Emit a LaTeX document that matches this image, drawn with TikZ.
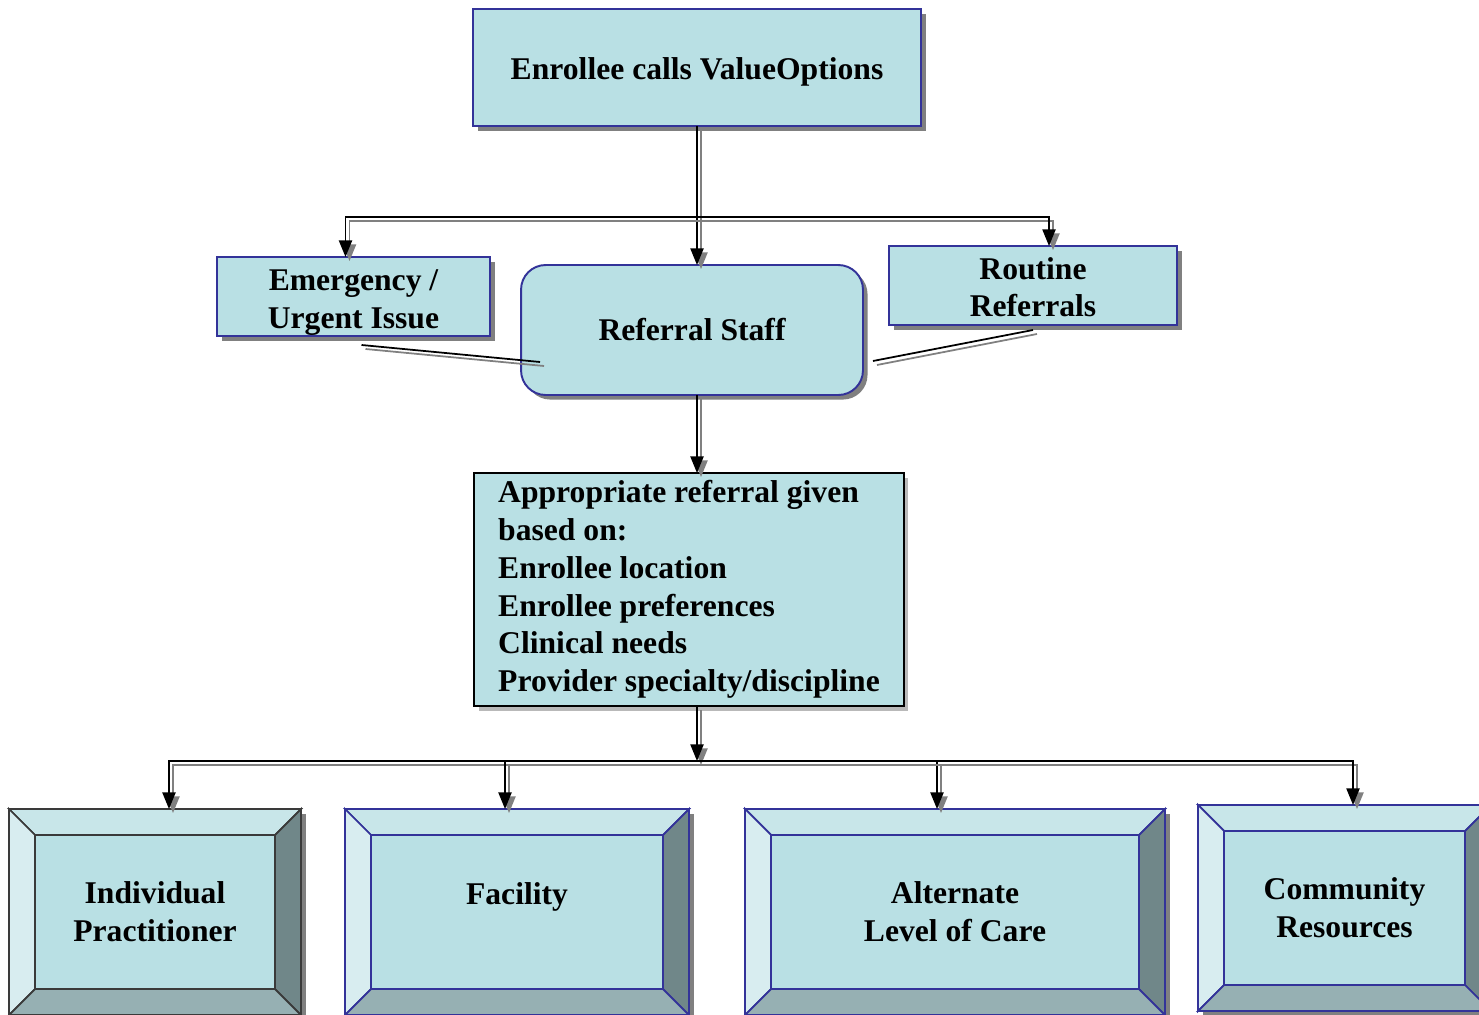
\documentclass[tikz,border=0pt]{standalone}
\usepackage{fontspec}
\setmainfont{Liberation Serif}
\usetikzlibrary{arrows.meta,shadows,calc}

\definecolor{boxfill}{RGB}{185,224,228}
\definecolor{boxedge}{RGB}{51,51,153}
\definecolor{darkedge}{RGB}{58,58,58}
\definecolor{shade}{RGB}{128,128,128}
\definecolor{facetop}{RGB}{200,230,233}
\definecolor{faceleft}{RGB}{216,237,240}
\definecolor{faceright}{RGB}{112,135,137}
\definecolor{facebottom}{RGB}{150,176,179}

\tikzset{
  plain/.style={draw=boxedge, fill=boxfill, line width=1.1pt, inner sep=0pt, outer sep=0pt,
    align=center, font=\bfseries\fontsize{18}{21.5}\selectfont},
  box/.style={plain, drop shadow={shadow xshift=2.6pt, shadow yshift=-2.6pt, opacity=1, fill=shade}},
  bevel/.style={box, minimum height=4.12cm},
  link/.style={line width=1pt, -{Triangle[length=9.5pt,width=7.5pt]},
    preaction={draw=shade, line width=1pt, -{Triangle[length=9.5pt,width=7.5pt]},
      transform canvas={shift={(4,4)}}}},
  tie/.style={line width=1pt, preaction={draw=shade, line width=1pt, transform canvas={shift={(4,4)}}}},
}

% slanted faces of a raised box
\newcommand{\bevelfaces}[2]{%
  \filldraw[draw=#2, fill=facetop, line width=1pt] (#1.north west) -- (#1.north east)
    -- ([shift={(-26,26)}]#1.north east) -- ([shift={(26,26)}]#1.north west) -- cycle;
  \filldraw[draw=#2, fill=faceleft, line width=1pt] (#1.north west) -- ([shift={(26,26)}]#1.north west)
    -- ([shift={(26,-26)}]#1.south west) -- (#1.south west) -- cycle;
  \filldraw[draw=#2, fill=faceright, line width=1pt] (#1.north east) -- ([shift={(-26,26)}]#1.north east)
    -- ([shift={(-26,-26)}]#1.south east) -- (#1.south east) -- cycle;
  \filldraw[draw=#2, fill=facebottom, line width=1pt] (#1.south west) -- ([shift={(26,-26)}]#1.south west)
    -- ([shift={(-26,-26)}]#1.south east) -- (#1.south east) -- cycle;
}

\begin{document}
\begin{tikzpicture}[x=0.02cm, y=-0.02cm]
\useasboundingbox (0,0) rectangle (1479,1014);

% call and triage
\node[box, text height=17pt, minimum width=8.96cm, minimum height=2.34cm] (call) at (697,67.5) {Enrollee calls ValueOptions};
\node[box, minimum width=5.46cm, minimum height=1.58cm] (urgent) at (353.5,296.5) {\rule{0pt}{19pt}Emergency /\\Urgent Issue};
\node[box, rounded corners=14pt, minimum width=6.84cm, minimum height=2.6cm] (staff) at (692,330) {Referral Staff};
\node[box, minimum width=5.76cm, minimum height=1.58cm] (routine) at (1033,285.5) {\rule{0pt}{14.5pt}Routine\\Referrals};

\node[plain, draw=black, align=left, inner xsep=0.48cm, minimum height=4.66cm,
  drop shadow={shadow xshift=2.6pt, shadow yshift=-2.6pt, opacity=1, fill=shade!55}] (basis) at (689,589.5)
  {Appropriate referral given\\based on:\\Enrollee location\\Enrollee preferences\\Clinical needs\\Provider specialty/discipline};

% referral types
\node[bevel, draw=darkedge, minimum width=5.84cm] (indiv) at (155,912) {Individual\\Practitioner};
\bevelfaces{indiv}{darkedge}
\node[bevel, minimum width=6.88cm] (facility) at (517,912) {Facility\\\mbox{}};
\bevelfaces{facility}{boxedge}
\node[bevel, minimum width=8.4cm] (altcare) at (955,912) {Alternate\\Level of Care};
\bevelfaces{altcare}{boxedge}
\node[bevel, minimum width=5.86cm] (community) at (1344.5,908) {Community\\Resources};
\bevelfaces{community}{boxedge}

% connectors
\coordinate (split) at (697,217);
\coordinate (hub) at (697,761);
\draw[link] (call.south) -- (call.south |- staff.north);
\draw[link] (split) -| ($(urgent.north)+(-8,0)$);
\draw[link] (split) -| ($(routine.north)+(16,0)$);
\draw[tie] ($(urgent.south)+(8,9)$) -- ($(staff.south west)+(19,-33)$);
\draw[tie] ($(routine.south)+(0,5)$) -- ($(staff.south east)+(10,-34)$);
\draw[link] (call.south |- staff.south) -- (call.south |- basis.north);
\draw[link] (call.south |- basis.south) -- (hub);
\draw[link] (hub) -| ($(indiv.north)+(14,0)$);
\draw[link] (hub) -| ($(facility.north)+(-12,0)$);
\draw[link] (hub) -| ($(altcare.north)+(-18,0)$);
\draw[link] (hub) -| ($(community.north)+(8.5,0)$);
\end{tikzpicture}
\end{document}
